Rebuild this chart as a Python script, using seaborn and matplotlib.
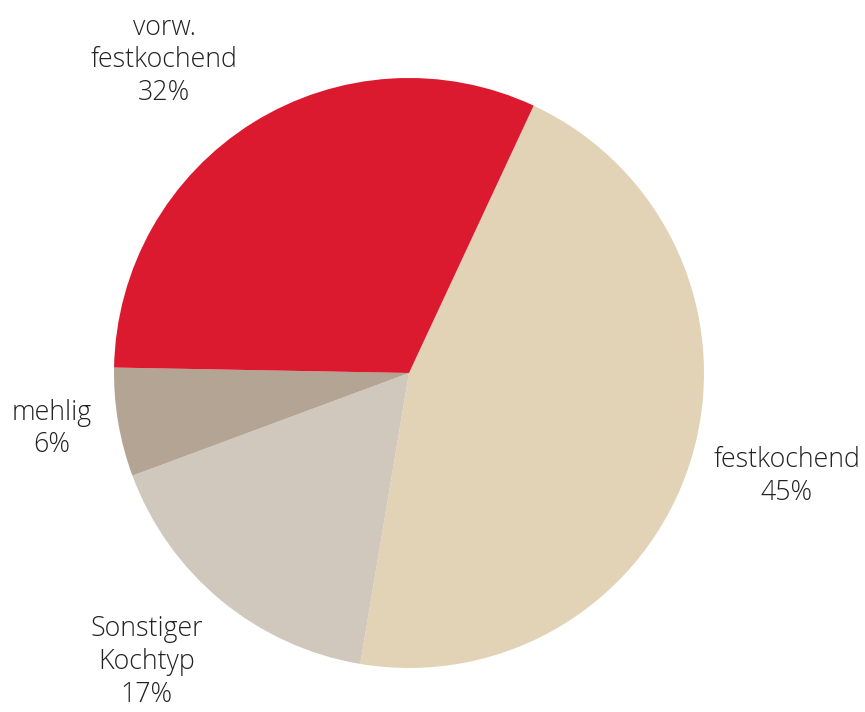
import matplotlib
matplotlib.use('Agg')
import matplotlib.pyplot as plt
import seaborn as sns

sns.set_theme(style='white')
plt.rcParams['font.family'] = ['Open Sans', 'DejaVu Sans']

# Daten (im Uhrzeigersinn ab oben rechts)
categories = ['festkochend', 'Sonstiger\nKochtyp', 'mehlig', 'vorw.\nfestkochend']
shares = [45.7, 16.7, 5.95, 31.65]
pct_labels = ['45%', '17%', '6%', '32%']
colors = ['#E2D3B7', '#D0C7BD', '#B3A494', '#DC1A2F']

# Beschriftungspositionen (Einheiten des Kreisradius)
label_pos = [(1.28, -0.35), (-0.89, -0.98), (-1.21, -0.19), (-0.83, 1.06)]

fig = plt.figure(figsize=(8.65, 7.12), dpi=100)
fig.patch.set_facecolor('white')

# Achse so legen, dass der Kreis bei (409, 373) px mit r = 295 px sitzt
L = 1.4
W = 2 * L * 295
ax = fig.add_axes([(409 - W / 2) / 865, (712 - 373 - W / 2) / 712, W / 865, W / 712])

wedges, _ = ax.pie(shares, colors=colors, startangle=65, counterclock=False,
                   wedgeprops=dict(linewidth=0))

for cat, pct, (x, y) in zip(categories, pct_labels, label_pos):
    ax.text(x, y, f'{cat}\n{pct}', ha='center', va='center', fontsize=19.3,
            fontweight='light', color='#222222', linespacing=1.22)

ax.set_xlim(-L, L)
ax.set_ylim(-L, L)
ax.set_aspect('equal')
ax.axis('off')

fig.savefig('out.png', dpi=100, facecolor='white')
